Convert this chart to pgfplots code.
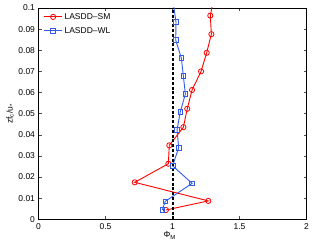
\documentclass[border=0pt]{standalone}
\usepackage{pgfplots}
\pgfplotsset{compat=1.18}
\usepackage{fontspec}
\setmainfont{Liberation Sans}
\definecolor{myblue}{RGB}{50,90,235}
\begin{document}
\begin{tikzpicture}[x=1pt,y=1pt]
\path[use as bounding box] (-38.5,-28.7) rectangle (273.5,219.3);
\begin{axis}[
  scale only axis, width=268pt, height=211.3pt,
  xmin=0, xmax=2, ymin=0, ymax=0.1,
  xtick={0,0.5,1,1.5,2},
  xticklabels={0,0.5,1,1.5,2},
  ytick={0,0.01,0.02,0.03,0.04,0.05,0.06,0.07,0.08,0.09,0.1},
  yticklabels={0,0.01,0.02,0.03,0.04,0.05,0.06,0.07,0.08,0.09,0.1},
  tick align=inside, major tick length=3pt,
  tick style={black!70, line width=0.4pt},
  axis line style={black, line width=0.6pt},
  ticklabel style={font=\fontsize{8.5}{10}\selectfont},
  xticklabel style={yshift=-1pt},
  xlabel={Φ\textsubscript{M}},
  xlabel style={at={(axis description cs:0.49,0)}, anchor=north, yshift=-12.5pt, inner sep=0pt, font=\fontsize{8.5}{10}\selectfont},
  ylabel={zf\textsubscript{c}/u\textsubscript{*}},
  ylabel style={at={(axis description cs:-0.106,0.5)}, anchor=center, inner sep=0pt, font=\fontsize{8.5}{10}\selectfont},
  clip=true,
  legend style={draw=none, fill=none, at={(axis description cs:0.0,1)}, anchor=north west, xshift=4pt, yshift=-2pt, inner sep=1pt, font=\fontsize{8.5}{10}\selectfont, row sep=2.5pt, cells={anchor=west}},
  legend image code/.code={\draw[#1] (0pt,0pt) -- (18pt,0pt); \draw[#1, only marks] plot coordinates {(9pt,0pt)};},
]
\addplot[red, line width=0.9pt, mark=o, mark size=2.6pt, mark options={solid, line width=0.8pt}] coordinates {
(0.951,0.0044) (1.267,0.0087) (0.718,0.0175) (0.969,0.0263) (0.976,0.0350)
(1.081,0.0436) (1.110,0.0523) (1.146,0.0612) (1.213,0.0700) (1.255,0.0788)
(1.290,0.0876) (1.282,0.0964) (1.309,0.1050)
};
\addlegendentry{LASDD--SM}
\addplot[myblue, line width=0.9pt, mark=square, mark size=2.3pt, mark options={solid, line width=0.8pt}] coordinates {
(0.924,0.0044) (0.946,0.0085) (1.146,0.0170) (1.001,0.0253) (1.046,0.0338)
(1.034,0.0424) (1.058,0.0508) (1.096,0.0593) (1.081,0.0678) (1.066,0.0763)
(1.024,0.0848) (1.026,0.0933) (1.007,0.1020)
};
\addlegendentry{LASDD--WL}
\addplot[black, line width=2pt, dash pattern=on 3pt off 1.8pt, forget plot] coordinates {(1,0) (1,0.1)};
\end{axis}
\end{tikzpicture}
\end{document}
